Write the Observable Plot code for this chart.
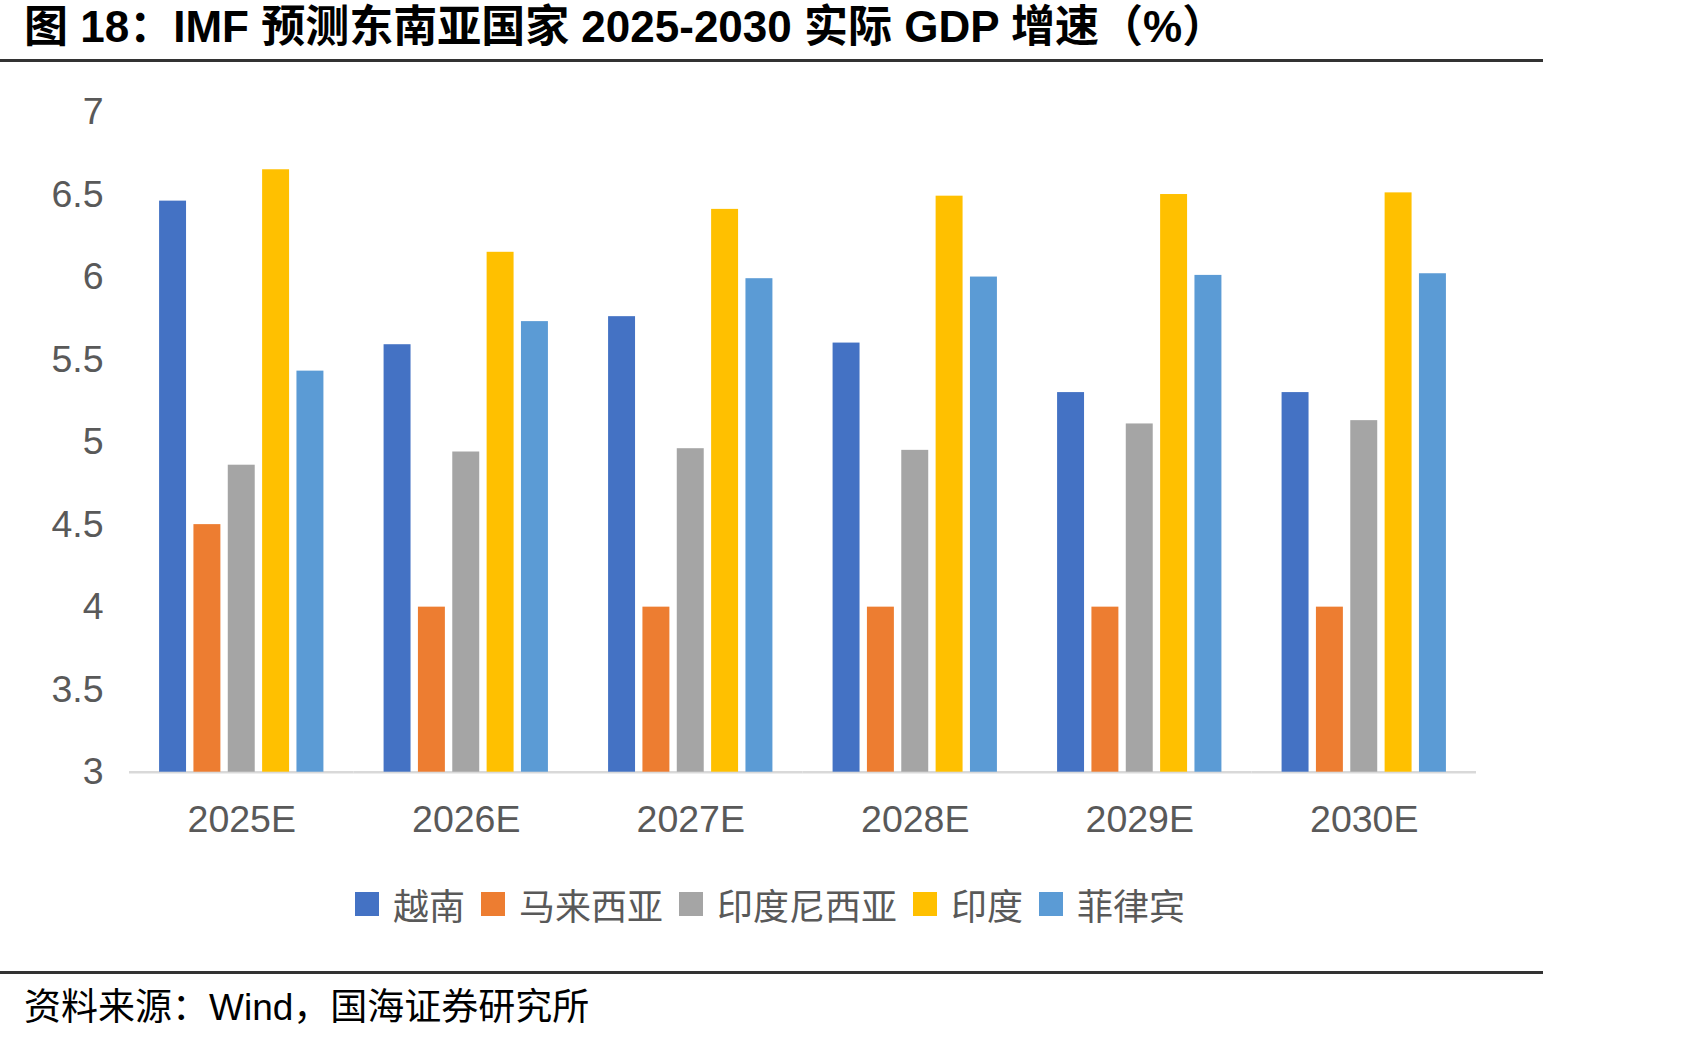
<!DOCTYPE html>
<html>
<head>
<meta charset="utf-8">
<script src="https://cdn.jsdelivr.net/npm/d3@7"></script>
<script src="https://cdn.jsdelivr.net/npm/@observablehq/plot@0.6"></script>
<style>
  html, body { margin: 0; padding: 0; background: #fff; }
  #page {
    position: relative; width: 1689px; height: 1039px; overflow: hidden;
    font-family: "Liberation Sans", Arial, "Noto Sans CJK SC", sans-serif;
  }
  #title {
    position: absolute; left: 24px; top: 0; height: 54px; line-height: 54px;
    font-size: 44px; font-weight: bold; color: #000; white-space: nowrap;
  }
  .hr { position: absolute; left: 0; width: 1543px; height: 3px; background: #333; }
  #chart { position: absolute; left: 0; top: 70px; }
  #legend {
    position: absolute; left: 355px; top: 883px; height: 42px;
    display: flex; align-items: center; white-space: nowrap;
    font-family: "Noto Sans CJK SC", sans-serif; font-size: 36px; color: #595959;
  }
  #legend .item { display: flex; align-items: center; margin-right: 16px; }
  #legend .sw { width: 24px; height: 24px; margin-right: 14px; }
  #source {
    position: absolute; left: 24px; top: 986px; line-height: 44px;
    font-size: 37px; color: #000; white-space: nowrap;
  }
</style>
</head>
<body>
<div id="page">
  <div id="title">图 18：IMF 预测东南亚国家 2025-2030 实际 GDP 增速（%）</div>
  <div class="hr" style="top:59px"></div>
  <div id="chart"></div>
  <div id="legend"></div>
  <div class="hr" style="top:971px"></div>
  <div id="source">资料来源：Wind，国海证券研究所</div>
</div>
<script>
// IMF real GDP growth forecasts, %
const years = ["2025E", "2026E", "2027E", "2028E", "2029E", "2030E"];
const countries = ["越南", "马来西亚", "印度尼西亚", "印度", "菲律宾"];
const vietnam     = [6.46, 5.59, 5.76, 5.60, 5.30, 5.30];
const malaysia    = [4.50, 4.00, 4.00, 4.00, 4.00, 4.00];
const indonesia   = [4.86, 4.94, 4.96, 4.95, 5.11, 5.13];
const india       = [6.65, 6.15, 6.41, 6.49, 6.50, 6.51];
const philippines = [5.43, 5.73, 5.99, 6.00, 6.01, 6.02];
const yTicks = [3, 3.5, 4, 4.5, 5, 5.5, 6, 6.5, 7];

// Office-style series colours
const palette = ["#4472C4", "#ED7D31", "#A5A5A5", "#FFC000", "#5B9BD5"];

const series = [vietnam, malaysia, indonesia, india, philippines];
const rows = [];
years.forEach((year, i) => {
  countries.forEach((country, j) => {
    rows.push({year, country, value: series[j][i]});
  });
});

const chart = Plot.plot({
  width: 1689,
  height: 800,
  marginTop: 41.5,
  marginBottom: 98.3,
  marginLeft: 129,
  marginRight: 213,
  style: {
    fontFamily: '"Liberation Sans", Arial, sans-serif',
    fontSize: "37.5px",
    color: "#595959",
    background: "transparent"
  },
  fx: {
    domain: years, paddingInner: 0.268, paddingOuter: 0.134, round: false,
    label: null, tickSize: 0, tickPadding: 33, axis: "bottom"
  },
  x: { domain: countries, paddingInner: 0.215, paddingOuter: 0, round: false, axis: null },
  y: {
    domain: d3.extent(yTicks), ticks: yTicks, tickFormat: d => String(d),
    tickSize: 0, tickPadding: 56, label: null
  },
  color: { domain: countries, range: palette },
  marks: [
    // baseline, widened across the gaps between year groups
    Plot.ruleY([yTicks[0]], {
      stroke: "#d9d9d9", strokeWidth: 2.5, insetLeft: -30.1, insetRight: -30.1
    }),
    Plot.barY(rows, {
      fx: "year", x: "country", y1: yTicks[0], y2: "value", fill: "country"
    })
  ]
});
document.getElementById("chart").appendChild(chart);

// Legend row
const legend = d3.select("#legend");
countries.forEach((name, i) => {
  const item = legend.append("div").attr("class", "item");
  item.append("div").attr("class", "sw").style("background", palette[i]);
  item.append("span").text(name);
});
</script>
</body>
</html>
